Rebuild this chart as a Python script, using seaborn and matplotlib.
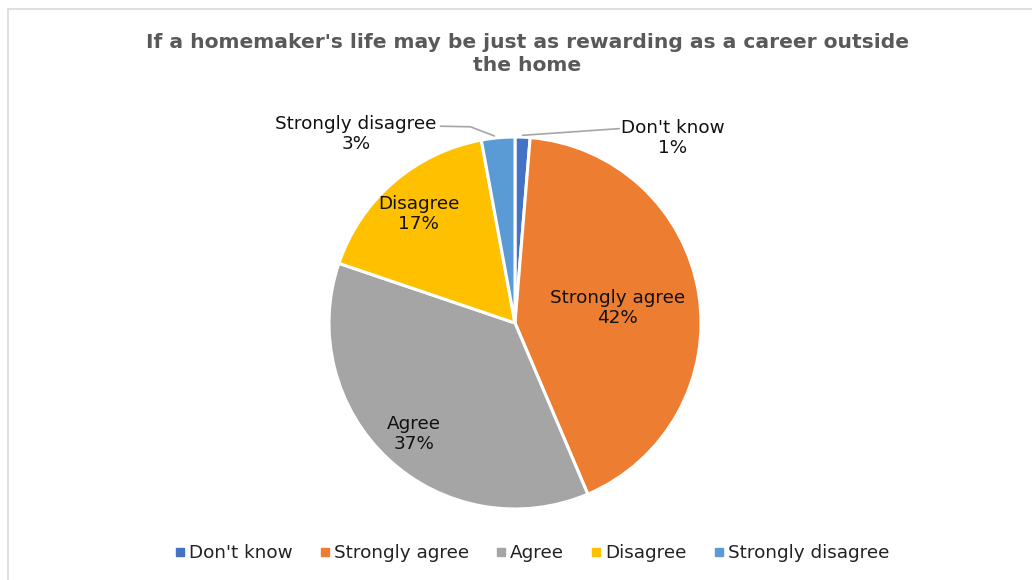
import numpy as np
import matplotlib
matplotlib.use("Agg")
import matplotlib.pyplot as plt
from matplotlib.lines import Line2D
from matplotlib.patches import Rectangle
import seaborn as sns

# Survey responses
categories = ["Don't know", "Strongly agree", "Agree", "Disagree", "Strongly disagree"]
shares = [1.3, 42.3, 36.6, 16.9, 2.9]
palette = ["#4472C4", "#ED7D31", "#A5A5A5", "#FFC000", "#5B9BD5"]
title = "If a homemaker's life may be just as rewarding as a career outside\nthe home"

sns.set_theme(style="white")
plt.rcParams["font.family"] = ["DejaVu Sans"]

W, H, DPI = 1032, 580, 100
fig = plt.figure(figsize=(W / DPI, H / DPI), dpi=DPI)
fig.patch.set_facecolor("white")

# chart frame (light grey border on top and left)
frame = Rectangle((8 / W, -0.01), 1.1, (H - 9) / H + 0.01, transform=fig.transFigure,
                  fill=False, edgecolor="#D9D9D9", linewidth=1.2)
fig.add_artist(frame)

ax = fig.add_axes([0, 0, 1, 1])
cx, cy, R = 515, 323, 186  # pie centre and radius in pixels
colors = sns.color_palette(palette)
wedges, _ = ax.pie(shares, colors=colors, startangle=90, counterclock=False,
                   radius=1.0, wedgeprops=dict(edgecolor="white", linewidth=2.2))
ax.set_xlim(-cx / R, (W - cx) / R)
ax.set_ylim((cy - H) / R, cy / R)
ax.set_aspect("auto")
ax.axis("off")

LABEL_FS = 13.2


def mid_angle(w):
    return np.deg2rad((w.theta1 + w.theta2) / 2)


def pct_label(i):
    return f"{categories[i]}\n{round(shares[i]):.0f}%"


# labels inside the larger slices
inner = {1: 0.56, 2: 0.80, 3: 0.79}
for i, r in inner.items():
    ang = mid_angle(wedges[i])
    ax.text(r * np.cos(ang), r * np.sin(ang) - 0.01, pct_label(i), ha="center",
            va="center", fontsize=LABEL_FS, color="#111111", linespacing=1.15)

# outside labels with leader lines
a0 = mid_angle(wedges[0])
ax.plot([np.cos(a0), 0.56], [np.sin(a0) + 0.01, 1.045], color="#A6A6A6", lw=1.2)
a4 = mid_angle(wedges[4])
ax.plot([np.cos(a4) - 0.02, -0.24, -0.40], [np.sin(a4) + 0.01, 1.055, 1.058],
        color="#A6A6A6", lw=1.2)

ax.text((673 - cx) / R, (cy - 138) / R, pct_label(0), ha="center", va="center",
        fontsize=LABEL_FS, color="#111111", linespacing=1.15)
ax.text((356 - cx) / R, (cy - 134) / R, pct_label(4), ha="center", va="center",
        fontsize=LABEL_FS, color="#111111", linespacing=1.15)

fig.text(527 / W, 1 - 54 / H, title, ha="center", va="center", fontsize=14.6,
         fontweight="bold", color="#595959", linespacing=1.3)

handles = [Line2D([], [], marker="s", linestyle="none", markersize=5.5,
                  markerfacecolor=c, markeredgecolor=c) for c in colors]
fig.legend(handles, categories, loc="center", bbox_to_anchor=(531 / W, 1 - 553 / H),
           ncol=5, frameon=False, fontsize=LABEL_FS, handletextpad=0.1,
           columnspacing=1.35, handlelength=0.8, labelcolor="#222222")

fig.savefig("out.png", dpi=DPI, facecolor="white")
